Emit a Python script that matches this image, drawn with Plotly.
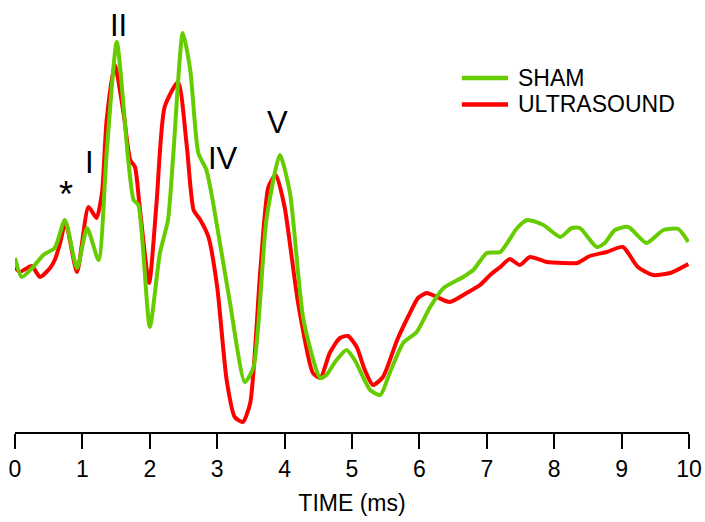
import plotly.graph_objects as go

# SHAM trace (time ms, amplitude a.u.)
sham_t = [0.00, 0.10, 0.27, 0.42, 0.59, 0.74, 0.92, 1.07, 1.24, 1.36, 1.51, 1.68, 1.76, 1.83,
          2.00, 2.15, 2.27, 2.35, 2.49, 2.60, 2.72, 2.84, 2.94, 3.19, 3.41, 3.54, 3.73, 3.93,
          4.08, 4.28, 4.53, 4.62, 4.77, 4.92, 5.04, 5.27, 5.42, 5.56, 5.76, 5.96, 6.16, 6.36,
          6.65, 6.80, 7.00, 7.20, 7.45, 7.60, 7.84, 8.09, 8.26, 8.38, 8.63, 8.75, 8.90, 9.10,
          9.37, 9.62, 9.84, 9.99]
sham_v = [0.12, -0.07, 0.03, 0.15, 0.22, 0.50, 0.02, 0.42, 0.10, 1.17, 2.28, 1.10, 0.70, 0.65,
          -0.57, 0.17, 0.50, 1.17, 2.37, 2.00, 1.17, 1.00, 0.67, -0.33, -1.12, -0.97, 0.50, 1.15,
          0.77, -0.50, -1.08, -1.05, -0.90, -0.80, -0.90, -1.20, -1.25, -1.03, -0.73, -0.62, -0.37, -0.18,
          -0.07, 0.00, 0.17, 0.18, 0.42, 0.50, 0.45, 0.33, 0.42, 0.42, 0.23, 0.27, 0.40, 0.43,
          0.27, 0.40, 0.41, 0.28]

# ULTRASOUND trace
us_t = [0.00, 0.07, 0.25, 0.37, 0.52, 0.59, 0.67, 0.75, 0.92, 1.09, 1.21, 1.29, 1.36, 1.48,
        1.61, 1.71, 1.78, 1.85, 1.99, 2.10, 2.22, 2.42, 2.55, 2.65, 2.75, 2.87, 3.00, 3.14,
        3.26, 3.38, 3.49, 3.64, 3.76, 3.87, 4.00, 4.20, 4.42, 4.53, 4.67, 4.82, 4.94, 5.07,
        5.19, 5.31, 5.46, 5.67, 5.86, 5.98, 6.11, 6.26, 6.45, 6.70, 6.90, 7.05, 7.20, 7.34,
        7.49, 7.64, 7.89, 8.13, 8.34, 8.53, 8.78, 9.02, 9.24, 9.47, 9.72, 9.99]
us_v = [0.03, -0.02, 0.04, -0.07, 0.02, 0.10, 0.27, 0.48, -0.02, 0.63, 0.52, 0.77, 1.50, 2.05,
        1.57, 1.10, 1.03, 0.63, -0.13, 0.67, 1.63, 1.88, 1.23, 0.60, 0.50, 0.33, -0.17, -1.10,
        -1.47, -1.52, -1.33, 0.00, 0.83, 0.95, 0.63, -0.33, -1.03, -1.08, -0.83, -0.68, -0.66, -0.77,
        -1.00, -1.15, -1.07, -0.70, -0.43, -0.28, -0.23, -0.27, -0.32, -0.23, -0.15, -0.05, 0.03, 0.11,
        0.05, 0.13, 0.08, 0.07, 0.07, 0.14, 0.18, 0.23, 0.03, -0.05, -0.03, 0.06]

# Wave labels
label_text = ["*", "I", "II", "III", "IV", "V"]
label_t = [0.75, 1.10, 1.53, 2.55, 3.08, 3.90]
label_v = [0.76, 1.08, 2.45, 2.52, 1.12, 1.475]
label_size = [36, 31, 31, 31, 31, 31]

series_names = ["SHAM", "ULTRASOUND"]
series_colors = ["#66cc00", "#ff0000"]

x_ticks = list(range(0, 11))

FONT = "Liberation Sans, Arial, sans-serif"

fig = go.Figure()
# draw ULTRASOUND first so SHAM sits on top, as in the reference
for name, color, xs, ys in [(series_names[1], series_colors[1], us_t, us_v),
                            (series_names[0], series_colors[0], sham_t, sham_v)]:
    fig.add_trace(go.Scatter(x=xs, y=ys, mode="lines", name=name,
                             line=dict(color=color, width=4, shape="spline", smoothing=0.6)))

for txt, t, v, s in zip(label_text, label_t, label_v, label_size):
    fig.add_annotation(x=t, y=v, text=txt, showarrow=False,
                       font=dict(family=FONT, size=s, color="black"))

# manual legend (paper coordinates)
leg_y = [0.859, 0.795]
for name, color, yy in zip(series_names, series_colors, leg_y):
    fig.add_shape(type="line", xref="paper", yref="paper", x0=0.663, x1=0.7315,
                  y0=yy, y1=yy, line=dict(color=color, width=4.5))
    fig.add_annotation(xref="paper", yref="paper", x=0.744, y=yy, text=name,
                       xanchor="left", yanchor="middle", showarrow=False,
                       font=dict(family=FONT, size=23, color="black"))

fig.update_layout(
    width=705, height=522,
    margin=dict(l=15, r=16, t=20, b=90),
    plot_bgcolor="white", paper_bgcolor="white",
    font=dict(family=FONT, size=23, color="black"),
    showlegend=False,
    xaxis=dict(range=[0, 10], tickvals=x_ticks, ticktext=[str(v) for v in x_ticks],
               showline=True, linecolor="black", linewidth=2,
               ticks="outside", ticklen=15, tickwidth=2, tickcolor="black",
               showgrid=False, zeroline=False, automargin=False,
               title=dict(text="TIME (ms)", font=dict(family=FONT, size=23), standoff=14),
               tickfont=dict(family=FONT, size=23)),
    yaxis=dict(range=[-1.62, 2.50], visible=False, showgrid=False, zeroline=False,
               automargin=False),
)

fig.write_html("out.html", config={"displayModeBar": False},
               post_script="document.body.style.margin='0';document.body.style.overflow='hidden';")
